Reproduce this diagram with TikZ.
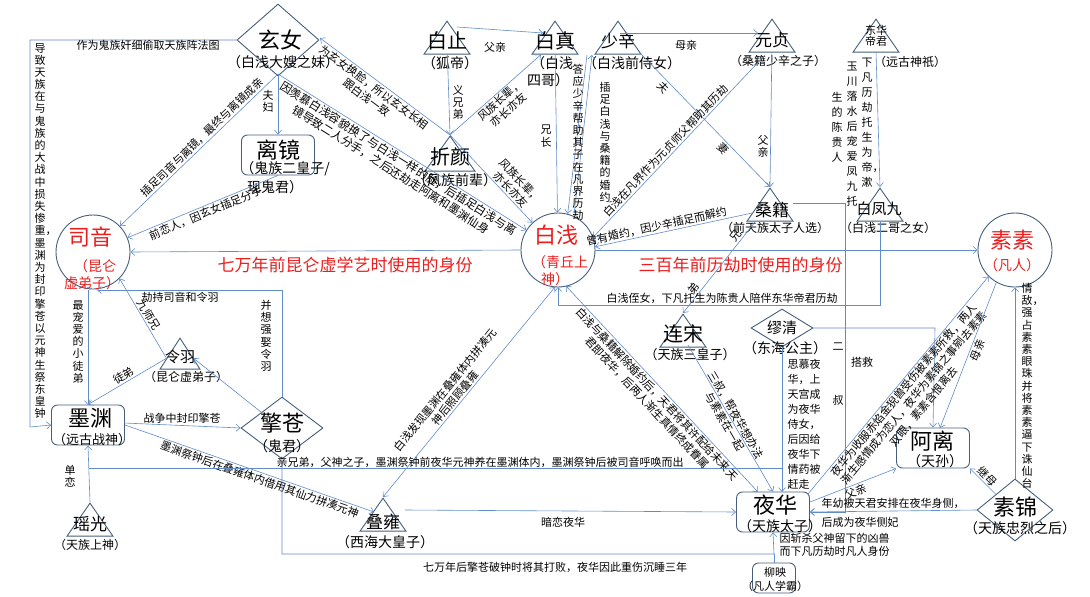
\documentclass[tikz,border=0pt]{standalone}
\usepackage{fontspec}
\setmainfont{Liberation Serif}
\newfontfamily\cjk{Noto Sans CJK SC}
\usetikzlibrary{shapes.geometric,arrows.meta,calc}
\XeTeXlinebreaklocale "zh"
\XeTeXlinebreakskip=0pt plus 1pt
\definecolor{lb}{RGB}{96,140,200}
\definecolor{shc}{RGB}{70,95,125}
\definecolor{rd}{RGB}{235,30,30}
\newcommand\fz[1]{\cjk\fontsize{#1}{#1}\selectfont}
\tikzset{
 ln/.style={draw=lb,line width=0.6pt},
 ar/.style={ln,-{Straight Barb[length=4pt,width=7pt]}},
 ar2/.style={ln,{Straight Barb[length=4pt,width=7pt]}-{Straight Barb[length=4pt,width=7pt]}},
 sh/.style={draw=shc,line width=0.9pt},
 tri/.style={sh,isosceles triangle,shape border rotate=90,isosceles triangle stretches,minimum width=46pt,minimum height=33pt,inner sep=0,anchor=apex},
 dia/.style={sh,diamond,inner sep=0},
 rbox/.style={sh,rectangle,rounded corners=6pt,inner sep=0,minimum width=73pt,minimum height=40pt},
 circ/.style={sh,circle,inner sep=0,minimum size=74pt},
 txt/.style={font=\cjk\fontsize{11}{13}\selectfont,inner sep=1.5pt,align=center},
 vt/.style={font=\cjk\fontsize{11}{12.2}\selectfont,inner sep=0,text width=11pt,align=center,anchor=north},
 nm/.style={font=\fz{22},inner sep=0},
 sub/.style={font=\fz{14},inner sep=0},
 red/.style={text=rd}
}
\begin{document}
\begin{tikzpicture}[x=1pt,y=-1pt]
\useasboundingbox (0,0) rectangle (1090,597);
% ---------- shapes
\node[dia,minimum width=82pt,minimum height=72pt] (xn) at (278,40) {};
\node[nm] (xnT) at (280,40) {玄女};
\node[sub] (xnS) at (283,62) {（白浅大嫂之妹）};
\node[rbox] (lj) at (278,155) {};
\node[nm] (ljT) at (278,150) {离镜};
\node[sub] (ljS) at (285,169) {（鬼族二皇子/};
\node[sub] (ljS2) at (275,187) {现鬼君）};
\node[circ] (sy) at (93,252) {};
\node[nm,red] (syT) at (90,237) {司音};
\node[sub,red] (syS) at (95,266) {（昆仑};
\node[sub,red] (syS2) at (92,283) {虚弟子）};
\node[tri] (bz) at (447,20) {};
\node[font=\fz{20}] (bzT) at (447,41) {白止};
\node[sub] (bzS) at (450,63) {（狐帝）};
\node[tri] (bzh) at (555,20) {};
\node[font=\fz{20}] (bzhT) at (555,41) {白真};
\node[sub] (bzhS) at (552,63) {（白浅};
\node[sub] (bzhS2) at (548,80) {四哥）};
\node[tri] (sx) at (618,20) {};
\node[font=\fz{17}] (sxT) at (618,41) {少辛};
\node[sub] (sxS) at (632,63) {（白浅前侍女）};
\node[tri] (yz) at (772,18) {};
\node[font=\fz{17}] (yzT) at (772,40) {元贞};
\node[font=\fz{12}] (yzS) at (778,61) {（桑籍少辛之子）};
\node[tri] (dh) at (876,18) {};
\node[font=\fz{11},align=center] (dhT) at (876,36) {东华\\帝君};
\node[font=\fz{12}] (dhS) at (910,62) {（远古神祇）};
\node[tri,minimum width=50pt,minimum height=35pt] (zy) at (450,135) {};
\node[font=\fz{20}] (zyT) at (450,157) {折颜};
\node[sub] (zyS) at (455,180) {（风族前辈）};
\node[circ] (bq) at (558,250) {};
\node[nm,red] (bqT) at (556,235) {白浅};
\node[sub,red] (bqS) at (560,262) {（青丘上};
\node[sub,red] (bqS2) at (555,279) {神）};
\node[tri] (sj) at (770,187) {};
\node[font=\fz{17}] (sjT) at (772,210) {桑籍};
\node[font=\fz{12}] (sjS) at (775,228) {（前天族太子人选）};
\node[tri] (fj) at (880,187) {};
\node[font=\fz{15}] (fjT) at (879,209) {白凤九};
\node[font=\fz{12}] (fjS) at (888,228) {（白浅二哥之女）};
\node[circ] (ss) at (1015,250) {};
\node[nm,red] (ssT) at (1012,240) {素素};
\node[sub,red] (ssS) at (1012,265) {（凡人）};
\node[tri,minimum width=40pt,minimum height=31pt] (ly) at (180,337) {};
\node[font=\fz{15}] (lyT) at (180,357) {令羽};
\node[font=\fz{12}] (lyS) at (186,377) {（昆仑虚弟子）};
\node[rbox] (my) at (88,425) {};
\node[nm] (myT) at (90,418) {墨渊};
\node[font=\fz{13}] (myS) at (92,440) {（远古战神）};
\node[dia,minimum width=82pt,minimum height=62pt] (qc) at (282,428) {};
\node[nm] (qcT) at (282,423) {擎苍};
\node[sub] (qcS) at (282,446) {（鬼君）};
\node[tri] (yg) at (90,502) {};
\node[font=\fz{17}] (ygT) at (90,524) {瑶光};
\node[font=\fz{12}] (ygS) at (90,545) {（天族上神）};
\node[tri] (dy) at (383,497) {};
\node[font=\fz{17}] (dyT) at (383,522) {叠雍};
\node[sub] (dyS) at (385,542) {（西海大皇子）};
\node[tri] (ls) at (683,313) {};
\node[font=\fz{20}] (lsT) at (683,334) {连宋};
\node[font=\fz{13}] (lsS) at (690,355) {（天族三皇子）};
\node[dia,minimum width=62pt,minimum height=38pt] (mq) at (782,328) {};
\node[font=\fz{15}] (mqT) at (782,328) {缪清};
\node[sub] (mqS) at (785,348) {（东海公主）};
\node[rbox] (yh) at (773,512) {};
\node[nm] (yhT) at (775,505) {夜华};
\node[sub] (yhS) at (780,526) {（天族太子）};
\node[rbox] (al) at (933,448) {};
\node[nm] (alT) at (932,441) {阿离};
\node[sub] (alS) at (935,461) {（天孙）};
\node[dia,minimum width=76pt,minimum height=62pt] (sjn) at (1015,510) {};
\node[nm] (sjnT) at (1015,507) {素锦};
\node[sub] (sjnS) at (1020,528) {（天族忠烈之后）};
\node[rbox,minimum width=43pt,minimum height=30pt] (liu) at (774,578) {};
\node[font=\fz{11}] (liuT) at (775,572) {柳映};
\node[font=\fz{11}] (liuS) at (775,586) {（凡人学霸）};
% ---------- named points
\coordinate (xb) at (278,74);
\coordinate (xl) at (237,40);
\coordinate (xr) at (320,38);
\coordinate (zya) at (450,135);
\coordinate (bqb) at (558,287);
\coordinate (yhr) at (810,512);
% ---------- connectors
\draw[ar] (xl) -- (30,40) -- (30,427) -- (my.west);
\node[txt] (l1) at (148,45) {作为鬼族奸细偷取天族阵法图};
\node[vt] (l2) at (40,43) {导致天族在与鬼族的大战中损失惨重，墨渊为封印擎苍以元神生祭东皇钟};
\draw[ar] (xb) -- (lj.north);
\node[vt] (l3) at (268,90) {夫妇};
\draw[ar] (xb) -- node[txt,sloped,above,pos=.45] (l4) {插足司音与离镜，最终与离镜成亲} (sy);
\draw[ar] (lj.south) -- node[txt,sloped,below,pos=.5] (l5) {前恋人，因玄女插足分手} (sy);
\draw[ar] (xb) -- node[font=\cjk\fontsize{11.5}{13.5}\selectfont,inner sep=1.5pt,align=center,sloped,below,pos=.5] (l6) {因羡慕白浅容貌换了与白浅一样的脸，后插足白浅与离\\镜导致二人分手，之后还劫走阿离和墨渊仙身} (bq);
\draw[ar] (zya) -- node[txt,sloped,below,pos=.55] (l7) {为玄女换脸，所以玄女长相\\跟白浅一致} (xr);
\draw[ar] (457,27) -- (543,33);
\node[txt] (l8) at (495,47) {父亲};
\draw[ar] (bz) -- (zya);
\node[vt] (l9) at (458,85) {义兄弟};
\draw[ar] (zya) -- node[txt,sloped,below,pos=.5] (l10) {风族长辈，\\亦长亦友} (bzh);
\draw[ar] (zya) -- node[txt,sloped,above,pos=.68] (l11) {风族长辈，\\亦长亦友} (bq);
\draw[ar] (bzh) -- (bq);
\node[vt] (l12) at (546,125) {兄长};
\draw[ar] (bq.65) -- (592,55);
\draw[ar] (587,55) -- (bq.75);
\node[vt] (l13) at (578,64) {答应少辛帮助其子在凡界历劫};
\node[vt] (l14) at (605,82) {插足白浅与桑籍的婚约};
\draw[ar] (620,33) -- (758,33);
\node[txt] (l15) at (686,45) {母亲};
\draw[ar] (640,53) -- node[txt,sloped,below,pos=.22] (l16) {夫} node[txt,sloped,below,pos=.68] (l17) {妻} (sj.apex);
\draw[ar] (yz) -- (sj.apex);
\node[vt] (l18) at (763,135) {父亲};
\draw[ar] (765,55) -- node[txt,sloped,above,pos=.55] (l19) {白浅在凡界作为元贞师父帮助其历劫} (bq.20);
\draw[ar] (sj) -- node[txt,sloped,above,pos=.6] (l20) {曾有婚约，因少辛插足而解约} (bq.5);
\draw[ar] (bq.east) -- node[font=\fz{17},text=rd,below=3pt,pos=.38] (l21) {三百年前历劫时使用的身份} (ss.west);
\draw[ar] (bq.west) -- node[font=\fz{17},text=rd,below=3pt,pos=.45] (l22) {七万年前昆仑虚学艺时使用的身份} (sy.east);
\draw[ar] (755,222) -- node[txt,sloped,above,pos=.2] (l23) {兄} node[txt,sloped,above,pos=.78] (l24) {弟} (ls.apex);
\draw[ar] (793,203) -- (845,203) -- (845,512) -- (yhr);
\node[vt] (l25) at (838,343) {二};
\node[vt] (l26) at (838,395) {叔};
\draw[ar] (880,222) -- (880,305) -- (558,305) -- (bqb);
\node[txt] (l27) at (722,298) {白浅侄女，下凡托生为陈贵人陪伴东华帝君历劫};
\draw[ar] (876,52) -- (fj.apex);
\node[font=\cjk\fontsize{11}{15}\selectfont,inner sep=0,text width=11pt,align=center,anchor=north] (l28) at (867,58) {下凡历劫托生为帝，漱};
\node[font=\cjk\fontsize{11}{15}\selectfont,inner sep=0,text width=11pt,align=center,anchor=north] (l29) at (852,62) {玉川落水后宠爱凤九托};
\node[font=\cjk\fontsize{11}{15}\selectfont,inner sep=0,text width=11pt,align=center,anchor=north] (l30) at (837,92) {生的陈贵人};
\draw[ar] (mq.east) -- (935,328) -- (al.north);
\node[txt] (l31) at (862,362) {搭救};
\draw[ar] (mq.south) -- (782,492);
\node[txt,align=left,anchor=north west,font=\cjk\fontsize{11}{15}\selectfont] (l32) at (786,357) {思慕夜\\华，上\\天宫成\\为夜华\\侍女，\\后因给\\夜华下\\情药被\\赶走};
\draw[ar] (688,345) -- node[txt,sloped,pos=.5] (l33) {三叔，帮夜华想办法\\与素素在一起} (yh.north);
\draw[ar2] (566,286) -- node[txt,sloped,below,pos=.5] (l34) {白浅与桑籍解除婚约后，天君将其许配给未来天\\君即夜华，后两人渐生真情终成眷属} (758,492);
\draw[ar2] (555,287) -- node[txt,sloped,above,pos=.55] (l35) {白浅发现墨渊在叠雍体内拼凑元\\神后照顾叠雍} (dy.apex);
\draw[ar] (my.east) -- node[txt,sloped,below,pos=.55] (l36) {墨渊祭钟后在叠雍体内借用其仙力拼凑元神} (374,512);
\draw[ar] (124,423) -- (qc.west);
\node[txt] (l37) at (182,418) {战争中封印擎苍};
\draw[ar] (yg.apex) -- (my.south);
\node[vt] (l38) at (70,465) {单恋};
\draw[ln] (89,468) -- (782,468);
\node[txt] (l39) at (480,462) {亲兄弟，父神之子，墨渊祭钟前夜华元神养在墨渊体内，墨渊祭钟后被司音呼唤而出};
\draw[ar] (qc.south) -- (282,554) -- (774,554) -- (yh.south);
\node[txt] (l40) at (555,567) {七万年后擎苍破钟时将其打败，夜华因此重伤沉睡三年};
\draw[ln] (liu.north) -- (774,554);
\node[txt,align=left,anchor=west] (l41) at (778,545) {因斩杀父神留下的凶兽\\而下凡历劫时凡人身份};
\draw[ar] (405,510) -- (yh.west);
\node[txt] (l42) at (563,522) {暗恋夜华};
\draw[ar] (sjn.west) -- (yhr);
\node[txt] (l43) at (893,503) {年幼被天君安排在夜华身侧，};
\node[txt] (l44) at (860,522) {后成为夜华侧妃};
\draw[ar] (808,494) -- node[txt,sloped,below,pos=.5] (l45) {夜华为收服赤焰金猊兽受伤被素素所救，两人\\渐生感情成为恋人，夜华为素锦之事剜去素素\\双眼，素素含恨离去} (ss.225);
\draw[ar] (810,502) -- node[txt,sloped,below,pos=.5] (l46) {父亲} (al.south west);
\draw[ar] (sjn.north west) -- node[txt,sloped,above,pos=.5] (l47) {继母} (al.south east);
\draw[ar] (sjn.north) -- (ss.south);
\node[vt] (l48) at (1027,283) {情敌，强占素素眼珠并将素素逼下诛仙台};
\draw[ar] (ss.240) -- node[txt,sloped,below,pos=.45] (l49) {母亲} (940,428);
\draw[ar] (qc.north) -- (282,290) -- (97,290);
\node[txt] (l50) at (180,297) {劫持司音和令羽};
\node[vt] (l51) at (266,300) {并想强娶令羽};
\draw[ar] (qc.north west) -- (ly.east);
\draw[ar] (88,290) -- (88,405);
\node[vt] (l52) at (78,300) {最宠爱的小徒弟};
\draw[ar] (ly.west) -- node[txt,sloped,above,pos=.5] (l53) {九师兄} (sy.south east);
\draw[ar] (ly.west) -- node[txt,sloped,above,pos=.5] (l54) {徒弟} (my.north);
\end{tikzpicture}
\end{document}
